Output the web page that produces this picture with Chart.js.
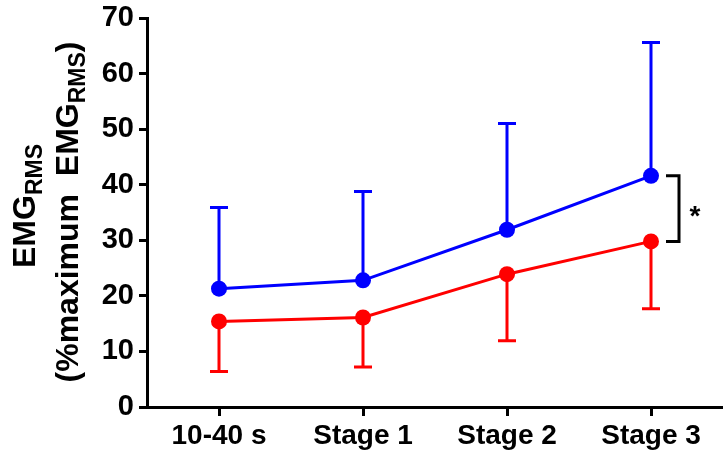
<!DOCTYPE html>
<html>
<head>
<meta charset="utf-8">
<script src="https://cdn.jsdelivr.net/npm/chart.js@4"></script>
<style>
  html, body { margin: 0; padding: 0; background: #fff; overflow: hidden; }
  #wrap { width: 723px; height: 457px; }
</style>
</head>
<body>
<div id="wrap"><canvas id="chart"></canvas></div>
<script>
const categories = ['10-40 s', 'Stage 1', 'Stage 2', 'Stage 3'];
const blueMean = [21.3, 22.8, 31.9, 41.6];
const blueUpper = [35.9, 38.8, 51.0, 65.6];
const redMean = [15.4, 16.1, 23.9, 29.8];
const redLower = [6.4, 7.2, 11.9, 17.7];
const yTicks = [0, 10, 20, 30, 40, 50, 60, 70];

const BLUE = '#0000ff', RED = '#ff0000';
const FONT = "'Liberation Sans', Arial, sans-serif";

// error bars (one-sided), drawn under the points
const errorBars = {
  id: 'errorBars',
  beforeDatasetsDraw(chart) {
    const { ctx, scales: { x, y } } = chart;
    const sets = [[blueMean, blueUpper, BLUE], [redMean, redLower, RED]];
    ctx.save();
    ctx.lineWidth = 3;
    sets.forEach(([mean, end, col]) => {
      ctx.strokeStyle = col;
      mean.forEach((m, i) => {
        const px = x.getPixelForValue(i);
        const y0 = y.getPixelForValue(m), y1 = y.getPixelForValue(end[i]);
        ctx.beginPath();
        ctx.moveTo(px, y0); ctx.lineTo(px, y1);
        ctx.moveTo(px - 9, y1); ctx.lineTo(px + 9, y1);
        ctx.stroke();
      });
    });
    ctx.restore();
  }
};

// significance bracket at last stage
const bracket = {
  id: 'bracket',
  afterDatasetsDraw(chart) {
    const { ctx, scales: { x, y } } = chart;
    const last = categories.length - 1;
    const px = x.getPixelForValue(last);
    const yt = y.getPixelForValue(blueMean[last]);
    const yb = y.getPixelForValue(redMean[last]);
    ctx.save();
    ctx.strokeStyle = '#000';
    ctx.lineWidth = 3;
    ctx.beginPath();
    ctx.moveTo(px + 15, yt); ctx.lineTo(px + 28, yt);
    ctx.lineTo(px + 28, yb); ctx.lineTo(px + 15, yb);
    ctx.stroke();
    ctx.fillStyle = '#000';
    ctx.font = 'bold 28px ' + FONT;
    ctx.textAlign = 'center';
    ctx.textBaseline = 'alphabetic';
    ctx.fillText('*', px + 44, (yt + yb) / 2 + 16);
    ctx.restore();
  }
};

// rotated y title with subscripts
const yTitle = {
  id: 'yTitle',
  afterDraw(chart) {
    const { ctx } = chart;
    const big = 'bold 32px ' + FONT, small = 'bold 23px ' + FONT;
    const lines = [
      { bx: 35, cy: 206, parts: [['EMG', big, 0], ['RMS', small, 7]] },
      { bx: 78, cy: 212, parts: [['(%maximum  EMG', big, 0], ['RMS', small, 7], [')', big, 0]] }
    ];
    ctx.save();
    ctx.fillStyle = '#000';
    ctx.textBaseline = 'alphabetic';
    ctx.textAlign = 'left';
    lines.forEach(line => {
      let w = 0;
      line.parts.forEach(([t, f]) => { ctx.font = f; w += ctx.measureText(t).width; });
      ctx.save();
      ctx.translate(line.bx, line.cy);
      ctx.rotate(-Math.PI / 2);
      let tx = -w / 2;
      line.parts.forEach(([t, f, dy]) => {
        ctx.font = f;
        ctx.fillText(t, tx, dy);
        tx += ctx.measureText(t).width;
      });
      ctx.restore();
    });
    ctx.restore();
  }
};

const pointStyle = col => ({
  borderColor: col, backgroundColor: col, borderWidth: 3,
  pointRadius: 8, pointBackgroundColor: col, pointBorderWidth: 0,
  pointHoverRadius: 8, tension: 0, fill: false
});

new Chart(document.getElementById('chart').getContext('2d'), {
  type: 'line',
  data: {
    labels: categories,
    datasets: [
      { label: 'Blue', data: blueMean, ...pointStyle(BLUE) },
      { label: 'Red', data: redMean, ...pointStyle(RED) }
    ]
  },
  plugins: [errorBars, bracket, yTitle],
  options: {
    responsive: true, maintainAspectRatio: false, animation: false,
    layout: { autoPadding: false, padding: { top: 18, right: 0, left: 0, bottom: 0 } },
    plugins: { legend: { display: false }, tooltip: { enabled: false } },
    scales: {
      x: {
        offset: true,
        border: { color: '#000', width: 3 },
        grid: { display: true, drawOnChartArea: false, drawTicks: true, tickLength: 9, tickWidth: 3, tickColor: '#000', offset: false },
        ticks: { color: '#000', font: { family: FONT, size: 28, weight: 'bold' }, padding: 3, maxRotation: 0 },
        afterFit: s => { s.height = 50; s.paddingLeft = 0; s.paddingRight = 0; }
      },
      y: {
        min: 0, max: 70,
        border: { color: '#000', width: 3 },
        grid: { display: true, drawOnChartArea: false, drawTicks: true, tickLength: 8, tickWidth: 3, tickColor: '#000' },
        afterBuildTicks: s => { s.ticks = yTicks.map(v => ({ value: v })); },
        ticks: { color: '#000', font: { family: FONT, size: 29, weight: 'bold' }, padding: 5 },
        afterFit: s => { s.width = 147; s.paddingTop = 0; s.paddingBottom = 0; }
      }
    }
  }
});
</script>
</body>
</html>
